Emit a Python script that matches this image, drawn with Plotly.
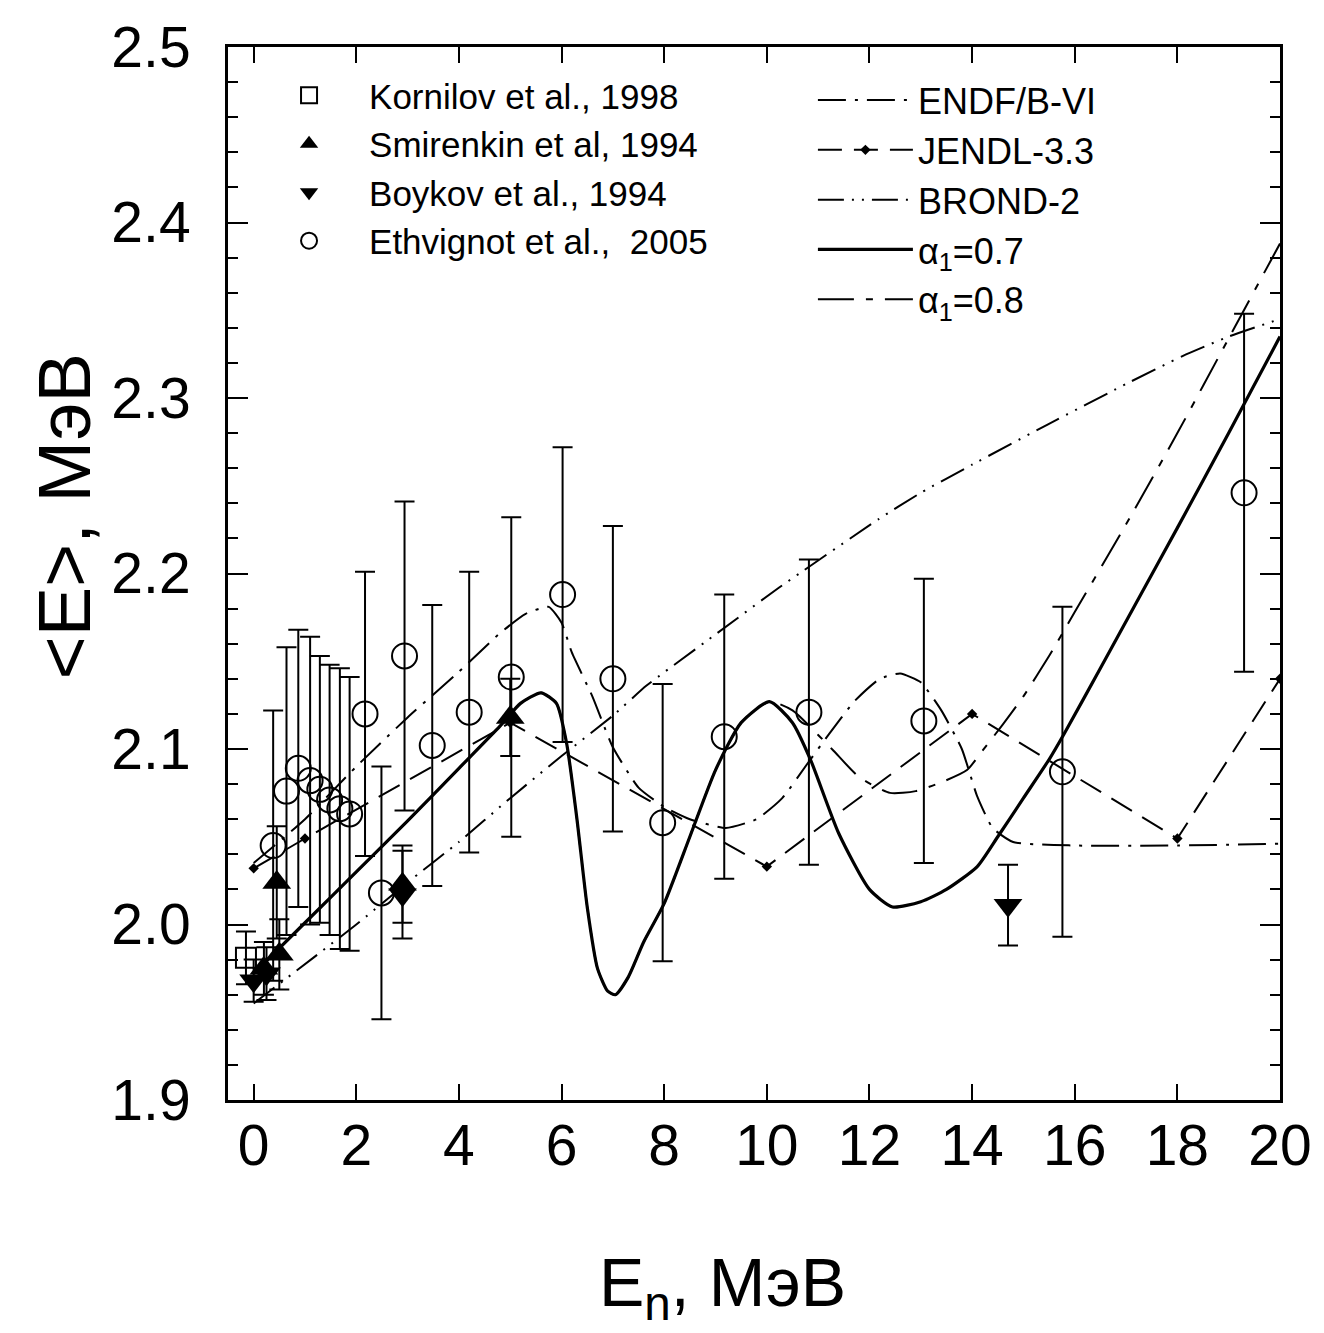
import plotly.graph_objects as go

# ---------------- data ----------------
# Experimental data
korn_x = [-0.15]
korn_y = [1.981]
korn_err = [0.015]

smir_x = [0.20, 0.45, 0.50, 2.90, 5.00]
smir_y = [1.975, 2.024, 1.983, 2.023, 2.118]
smir_err = [0.015, 0.032, 0.020, 0.022, 0.022]

boyk_x = [0.00, 0.25, 2.90, 14.70]
boyk_y = [1.968, 1.972, 2.017, 2.011]
boyk_err = [0.012, 0.015, 0.025, 0.023]

eth_x = [0.38, 0.64, 0.87, 1.10, 1.29, 1.48, 1.68, 1.87, 2.17, 2.49, 2.94,
         3.48, 4.20, 5.02, 6.02, 7.00, 7.97, 9.17, 10.82, 13.06, 15.76, 19.30]
eth_y = [2.045, 2.076, 2.089, 2.082, 2.077, 2.071, 2.066, 2.063, 2.120, 2.018, 2.153,
         2.102, 2.121, 2.141, 2.188, 2.140, 2.058, 2.107, 2.121, 2.116, 2.087, 2.246]
eth_err = [0.077, 0.082, 0.079, 0.082, 0.076, 0.077, 0.080, 0.078, 0.081, 0.072, 0.088,
           0.080, 0.080, 0.091, 0.084, 0.087, 0.079, 0.081, 0.087, 0.081, 0.094, 0.102]

# Evaluations / calculations
endf_x = [0.0, 1.0, 2.0, 3.0, 4.0, 4.8, 5.3, 5.75, 6.0, 6.2, 6.6, 7.0, 7.5, 8.0, 8.5,
          9.2, 9.8, 10.3, 10.8, 11.2, 11.7, 12.2, 12.6, 13.0, 13.4, 13.8, 14.1, 14.4,
          14.8, 16.0, 18.0, 20.0]
endf_y = [2.035, 2.060, 2.090, 2.118, 2.144, 2.166, 2.177, 2.181, 2.172, 2.155, 2.130,
          2.101, 2.078, 2.067, 2.060, 2.055, 2.060, 2.072, 2.092, 2.108, 2.127, 2.140,
          2.143, 2.138, 2.122, 2.100, 2.073, 2.055, 2.047, 2.045, 2.045, 2.046]

jendl_x = [0.0, 1.0, 5.0, 10.0, 14.0, 18.0, 20.0]
jendl_y = [2.032, 2.049, 2.115, 2.033, 2.120, 2.049, 2.140]

brond_x = [0.0, 1.16, 2.0, 3.0, 4.0, 5.0, 6.0, 7.0, 7.65, 8.94, 10.24, 12.18, 13.0,
           14.0, 15.48, 17.0, 18.11, 19.0, 20.0]
brond_y = [1.955, 1.981, 2.000, 2.024, 2.047, 2.072, 2.096, 2.119, 2.136, 2.164, 2.192,
           2.231, 2.246, 2.262, 2.285, 2.308, 2.324, 2.335, 2.345]

a07_x = [0.0, 1.0, 2.0, 3.0, 4.0, 4.8, 5.2, 5.6, 5.9, 6.1, 6.3, 6.5, 6.7, 6.9, 7.05,
         7.3, 7.6, 8.0, 8.5, 9.0, 9.5, 10.05, 10.5, 10.85, 11.4, 12.0, 12.45, 13.0,
         13.5, 14.1, 14.5, 15.0, 15.5, 15.8, 16.5, 17.25, 18.0, 19.0, 20.0]
a07_y = [1.972, 2.001, 2.030, 2.059, 2.089, 2.113, 2.126, 2.132, 2.126, 2.103, 2.060,
         2.010, 1.975, 1.962, 1.960, 1.970, 1.990, 2.012, 2.050, 2.088, 2.115, 2.127,
         2.115, 2.094, 2.052, 2.020, 2.010, 2.013, 2.020, 2.033, 2.050, 2.072, 2.094,
         2.109, 2.146, 2.186, 2.226, 2.280, 2.335]

a08_x = [0.0, 1.0, 2.0, 3.0, 4.0, 4.8, 5.2, 5.6, 5.9, 6.1, 6.3, 6.5, 6.7, 6.9, 7.05,
         7.3, 7.6, 8.0, 8.5, 9.0, 9.5, 10.05, 10.5, 11.0, 11.3, 11.8, 12.4, 12.9, 13.4,
         13.9, 14.2, 14.6, 15.0, 15.5, 16.0, 17.0, 18.0, 19.0, 20.0]
a08_y = [1.972, 2.001, 2.030, 2.059, 2.089, 2.113, 2.126, 2.132, 2.126, 2.103, 2.060,
         2.010, 1.975, 1.962, 1.960, 1.970, 1.990, 2.012, 2.050, 2.088, 2.115, 2.127,
         2.122, 2.108, 2.099, 2.084, 2.075, 2.076, 2.081, 2.088, 2.099, 2.114, 2.130,
         2.153, 2.178, 2.228, 2.280, 2.334, 2.388]

x_ticks = [0, 2, 4, 6, 8, 10, 12, 14, 16, 18, 20]
y_ticks = [1.9, 2.0, 2.1, 2.2, 2.3, 2.4, 2.5]
y_ticktext = ["1.9", "2.0", "2.1", "2.2", "2.3", "2.4", "2.5"]

x_title = "E<sub>n</sub>, МэВ"
y_title = "&lt;E&gt;, МэВ"

# ---------------- figure ----------------
FONT = "Liberation Sans, Arial, Helvetica, sans-serif"
BLACK = "black"

fig = go.Figure()


def err(vals):
    return dict(type="data", array=vals, visible=True, color=BLACK, thickness=2, width=10)


# calculation / evaluation curves (second legend)
fig.add_trace(go.Scatter(x=endf_x, y=endf_y, mode="lines", name="ENDF/B-VI",
                         line=dict(color=BLACK, width=2, dash="28px,9px,3px,9px",
                                   shape="spline", smoothing=0.5),
                         legend="legend2"))
fig.add_trace(go.Scatter(x=jendl_x, y=jendl_y, mode="lines+markers", name="JENDL-3.3",
                         line=dict(color=BLACK, width=2, dash="24px,12px"),
                         marker=dict(symbol="diamond", size=8, color=BLACK),
                         legend="legend2"))
fig.add_trace(go.Scatter(x=brond_x, y=brond_y, mode="lines", name="BROND-2",
                         line=dict(color=BLACK, width=2, dash="26px,8px,2px,8px,2px,8px",
                                   shape="spline", smoothing=0.4),
                         legend="legend2"))
fig.add_trace(go.Scatter(x=a07_x, y=a07_y, mode="lines", name="α<sub>1</sub>=0.7",
                         line=dict(color=BLACK, width=3.2, shape="spline", smoothing=0.6),
                         legend="legend2"))
fig.add_trace(go.Scatter(x=a08_x, y=a08_y, mode="lines", name="α<sub>1</sub>=0.8",
                         line=dict(color=BLACK, width=2, dash="36px,12px,7px,12px",
                                   shape="spline", smoothing=0.6),
                         legend="legend2"))

# experimental data (first legend)
fig.add_trace(go.Scatter(x=korn_x, y=korn_y, mode="markers", name="Kornilov et al., 1998",
                         error_y=err(korn_err),
                         marker=dict(symbol="square-open", size=20, color=BLACK,
                                     line=dict(width=2, color=BLACK)),
                         legend="legend"))
fig.add_trace(go.Scatter(x=smir_x, y=smir_y, mode="markers", name="Smirenkin et al, 1994",
                         error_y=err(smir_err),
                         marker=dict(symbol="triangle-up", size=25, color=BLACK),
                         legend="legend"))
fig.add_trace(go.Scatter(x=boyk_x, y=boyk_y, mode="markers", name="Boykov et al., 1994",
                         error_y=err(boyk_err),
                         marker=dict(symbol="triangle-down", size=25, color=BLACK),
                         legend="legend"))
fig.add_trace(go.Scatter(x=eth_x, y=eth_y, mode="markers", name="Ethvignot et al.,  2005",
                         error_y=err(eth_err),
                         marker=dict(symbol="circle-open", size=25, color=BLACK,
                                     line=dict(width=2, color=BLACK)),
                         legend="legend"))

fig.update_layout(
    width=1324, height=1333,
    margin=dict(l=228, r=39, t=47, b=233),
    paper_bgcolor="white", plot_bgcolor="white",
    font=dict(family=FONT, color=BLACK),
    legend=dict(x=0.02, y=0.982, xanchor="left", yanchor="top",
                font=dict(size=35, family=FONT, color=BLACK),
                itemwidth=110, bgcolor="rgba(0,0,0,0)", borderwidth=0,
                traceorder="normal", itemsizing="trace"),
    legend2=dict(x=0.556, y=0.978, xanchor="left", yanchor="top",
                 font=dict(size=36, family=FONT, color=BLACK),
                 itemwidth=95, bgcolor="rgba(0,0,0,0)", borderwidth=0,
                 traceorder="normal"),
    annotations=[
        dict(text=y_title, xref="paper", yref="paper", x=-0.155, y=0.555,
             xanchor="center", yanchor="middle", textangle=-90, showarrow=False,
             font=dict(size=74, family=FONT, color=BLACK)),
        dict(text=x_title, xref="paper", yref="paper", x=0.470, y=-0.178,
             xanchor="center", yanchor="middle", showarrow=False,
             font=dict(size=68, family=FONT, color=BLACK)),
    ],
)

fig.update_xaxes(
    range=[-0.5, 20.0], tickmode="array", tickvals=x_ticks,
    ticks="inside", ticklen=16, tickwidth=2, tickcolor=BLACK,
    showline=True, linewidth=3, linecolor=BLACK, mirror="ticks",
    showgrid=False, zeroline=False,
    tickfont=dict(size=57, family=FONT, color=BLACK),
    ticklabelstandoff=-6,
)
fig.update_yaxes(
    range=[1.9, 2.5], tickmode="array", tickvals=y_ticks, ticktext=y_ticktext,
    ticks="inside", ticklen=20, tickwidth=2, tickcolor=BLACK,
    minor=dict(dtick=0.02, ticks="inside", ticklen=10, tickwidth=2, tickcolor=BLACK),
    showline=True, linewidth=3, linecolor=BLACK, mirror="ticks",
    showgrid=False, zeroline=False,
    tickfont=dict(size=57, family=FONT, color=BLACK),
    ticklabelstandoff=23,
)

fig.write_html("out.html")
